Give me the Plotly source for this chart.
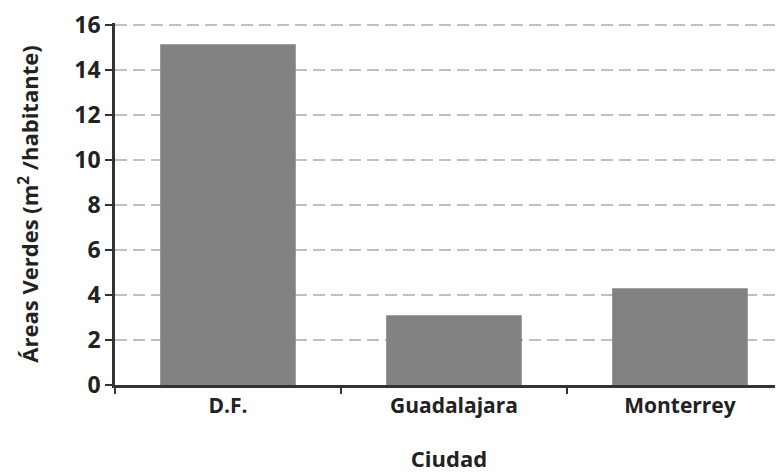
import plotly.graph_objects as go

ciudades = ["D.F.", "Guadalajara", "Monterrey"]
areas_verdes = [15.15, 3.1, 4.3]
y_ticks = [0, 2, 4, 6, 8, 10, 12, 14, 16]

font_family = "Open Sans"
text_color = "#222222"

fig = go.Figure(
    go.Bar(
        x=ciudades,
        y=areas_verdes,
        width=0.6,
        marker=dict(color="#828282", line=dict(width=0)),
    )
)

fig.update_layout(
    width=775,
    height=468,
    margin=dict(l=107, r=0, t=10, b=91),
    paper_bgcolor="white",
    plot_bgcolor="white",
    showlegend=False,
    font=dict(family=font_family, color=text_color),
)

fig.update_xaxes(
    range=[-0.5, 2.456],
    showline=True,
    linecolor="#333333",
    linewidth=2.5,
    ticks="outside",
    tickson="boundaries",
    ticklen=6,
    tickwidth=2,
    tickcolor="#333333",
    showgrid=False,
    tickfont=dict(size=21, family=font_family, weight=700, color=text_color),
    title=dict(text="Ciudad", font=dict(size=22, family=font_family, weight=700, color=text_color), standoff=34),
)

fig.update_yaxes(
    range=[0, 16.1],
    tickvals=y_ticks,
    showline=True,
    linecolor="#333333",
    linewidth=2.5,
    ticks="outside",
    ticklen=7,
    tickwidth=2,
    tickcolor="#333333",
    showgrid=True,
    gridcolor="#c0c0c0",
    gridwidth=2,
    griddash="12px,6px",
    zeroline=False,
    ticklabeloverflow="allow",
    tickfont=dict(size=23, family=font_family, weight=700, color=text_color),
    title=dict(
        text="Áreas Verdes (m<sup>2</sup> /habitante)",
        font=dict(size=22, family=font_family, weight=700, color=text_color),
        standoff=30,
    ),
)

fig.write_html("out.html")
